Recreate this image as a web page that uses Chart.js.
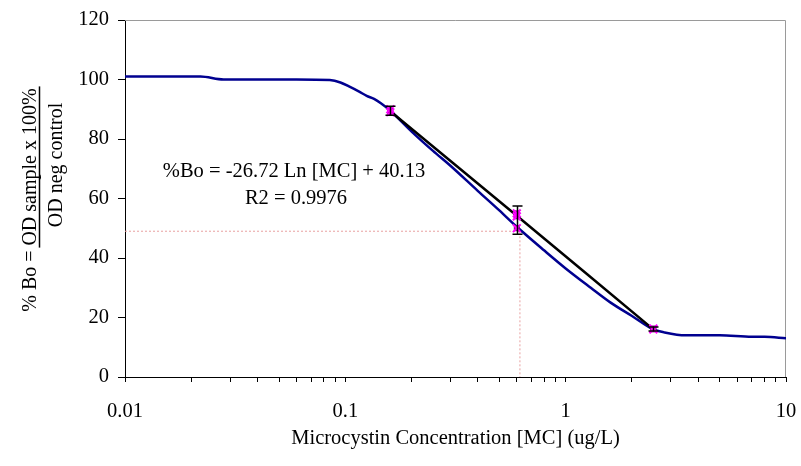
<!DOCTYPE html>
<html><head><meta charset="utf-8">
<script src="https://cdn.jsdelivr.net/npm/chart.js@4"></script>
<style>html,body{margin:0;padding:0;background:#fff}#wrap{width:801px;height:466px}</style>
</head><body><div id="wrap"><canvas id="c" width="801" height="466"></canvas></div>
<script>
// ---- data ----
const curveX = [0.01, 0.015, 0.022, 0.028, 0.04, 0.06, 0.085, 0.095, 0.105, 0.115, 0.125, 0.135, 0.145, 0.16, 0.2, 0.25, 0.3, 0.4, 0.5, 0.6, 0.8, 1, 1.3, 1.6, 2, 2.5, 2.8, 3.5, 5, 7, 8, 10];
const curveY = [101, 101, 101, 100, 100, 100, 99.8, 99, 97.5, 96, 94.5, 93.5, 92, 89.5, 82.5, 76, 71, 62.5, 56, 50.5, 42.5, 36.5, 30, 25, 20.5, 16, 15, 14, 14, 13.5, 13.5, 13];
const fitX = [0.16, 0.6, 2.5];
const fitY = [89.3, 54.2, 16];
const sampleX = [0.16, 0.16, 0.6, 0.6, 0.6, 2.5, 2.5];
const sampleY = [89, 90, 55, 54, 50, 16, 16.3];
const errX = [0.16, 0.6, 2.5];
const errLow = [88, 48, 15.5];
const errHigh = [91, 57.5, 16.8];
const refX = [0.01, 0.62, 0.62];
const refY = [49, 49, 0];
const xTickValues = [0.01,0.02,0.03,0.04,0.05,0.06,0.07,0.08,0.09,0.1,0.2,0.3,0.4,0.5,0.6,0.7,0.8,0.9,1,2,3,4,5,6,7,8,9,10];
const xMajorValues = [0.01, 0.1, 1, 10];
const xTickLabels = ['0.01', '0.1', '1', '10'];
const yTickValues = [0, 20, 40, 60, 80, 100, 120];
const equationText = '%Bo = -26.72 Ln [MC] + 40.13';
const r2Text = 'R2 = 0.9976';
const xTitle = 'Microcystin Concentration [MC] (ug/L)';
const yTitleLeft = '% Bo =';
const yTitleNum = 'OD sample x 100%';
const yTitleDen = 'OD neg control';

const FONT = '"Liberation Serif", "Times New Roman", serif';
const FS = 20.5;
const pts = (xs, ys) => xs.map((x, i) => ({x: x, y: ys[i]}));

const extras = {
  id: 'extras',
  beforeDatasetsDraw(chart) {
    const {ctx, chartArea: a} = chart;
    ctx.save();
    ctx.strokeStyle = '#9a9a9a';
    ctx.lineWidth = 1;
    ctx.beginPath();
    ctx.moveTo(a.left, a.top + 0.5);
    ctx.lineTo(a.right - 0.5, a.top + 0.5);
    ctx.lineTo(a.right - 0.5, a.bottom);
    ctx.stroke();
    ctx.restore();
  },
  afterDatasetsDraw(chart) {
    const {ctx} = chart;
    const xs = chart.scales.x, ys = chart.scales.y;
    ctx.save();
    ctx.strokeStyle = '#000';
    ctx.lineWidth = 1.5;
    errX.forEach((v, i) => {
      const px = Math.round(xs.getPixelForValue(v)) + 0.5;
      const y1 = ys.getPixelForValue(errLow[i]);
      const y2 = ys.getPixelForValue(errHigh[i]);
      ctx.beginPath();
      ctx.moveTo(px, y1); ctx.lineTo(px, y2);
      ctx.moveTo(px - 5, y1); ctx.lineTo(px + 5, y1);
      ctx.moveTo(px - 5, y2); ctx.lineTo(px + 5, y2);
      ctx.stroke();
    });
    ctx.restore();
  },
  afterDraw(chart) {
    const {ctx, chartArea: a} = chart;
    ctx.save();
    ctx.fillStyle = '#000';
    ctx.font = FS + 'px ' + FONT;
    ctx.textAlign = 'center';
    ctx.textBaseline = 'alphabetic';
    ctx.fillText(equationText, a.left + 169, a.top + 157);
    ctx.fillText(r2Text, a.left + 171, a.top + 184);
    const drawRot = (t, cx, cy) => {
      ctx.save();
      ctx.translate(cx, cy);
      ctx.rotate(-Math.PI / 2);
      ctx.textAlign = 'center';
      ctx.textBaseline = 'middle';
      ctx.fillText(t, 0, 0);
      ctx.restore();
    };
    ctx.font = '20px ' + FONT;
    drawRot(yTitleLeft, 31, 281);
    drawRot(yTitleNum, 31, 167);
    drawRot(yTitleDen, 57, 165);
    const w = ctx.measureText(yTitleNum).width;
    ctx.strokeStyle = '#000';
    ctx.lineWidth = 1.5;
    ctx.beginPath();
    ctx.moveTo(39.5, 167 - w / 2 - 2);
    ctx.lineTo(39.5, 167 + w / 2 + 2);
    ctx.stroke();
    ctx.restore();
  }
};

new Chart(document.getElementById('c'), {
  type: 'scatter',
  data: {
    datasets: [
      {label: 'marks-x', data: pts(sampleX, sampleY), pointStyle: 'crossRot', pointRadius: 5.5, borderColor: '#ff00ff', borderWidth: 2, backgroundColor: '#ff00ff', showLine: false, order: 0},
      {label: 'marks', data: pts(sampleX, sampleY), pointStyle: 'rect', pointRadius: 3.5, borderColor: '#800080', borderWidth: 1, backgroundColor: '#9a109a', showLine: false, order: 1},
      {label: 'fit', data: pts(fitX, fitY), showLine: true, borderColor: '#000', borderWidth: 2.5, pointRadius: 0, tension: 0.3, order: 2},
      {label: 'curve', data: pts(curveX, curveY), showLine: true, borderColor: '#000090', borderWidth: 2.5, pointRadius: 0, cubicInterpolationMode: 'monotone', order: 3},
      {label: 'ref', data: pts(refX, refY), showLine: true, borderColor: '#e8a0a0', borderWidth: 1, borderDash: [2, 2], pointRadius: 0, tension: 0, order: 4}
    ]
  },
  options: {
    responsive: false,
    animation: false,
    layout: {padding: {top: 20, right: 15, left: 0, bottom: 0}},
    plugins: {legend: {display: false}, tooltip: {enabled: false}},
    scales: {
      x: {
        type: 'logarithmic', min: 0.01, max: 10,
        afterBuildTicks(s) { s.ticks = xTickValues.map(v => ({value: v})); },
        afterFit(s) { s.height = 89; s.paddingLeft = 0; s.paddingRight = 0; },
        grid: {drawOnChartArea: false, drawTicks: true, tickLength: 5, color: '#000'},
        border: {color: '#000', width: 1},
        ticks: {
          autoSkip: false, maxRotation: 0, padding: 17, color: '#000',
          font: {family: FONT, size: FS},
          callback(v) { const i = xMajorValues.findIndex(m => Math.abs(m - v) < m * 1e-6); return i >= 0 ? xTickLabels[i] : ''; }
        },
        title: {display: true, text: xTitle, color: '#000', font: {family: FONT, size: FS}, padding: {top: 0, bottom: 15}}
      },
      y: {
        min: 0, max: 120,
        afterBuildTicks(s) { s.ticks = yTickValues.map(v => ({value: v})); },
        afterFit(s) { s.width = 125; s.paddingTop = 0; s.paddingBottom = 0; },
        grid: {drawOnChartArea: false, drawTicks: true, tickLength: 7, color: '#000'},
        border: {color: '#000', width: 1},
        ticks: {padding: 9, color: '#000', font: {family: FONT, size: FS}}
      }
    }
  },
  plugins: [extras]
});
</script>
</body></html>
